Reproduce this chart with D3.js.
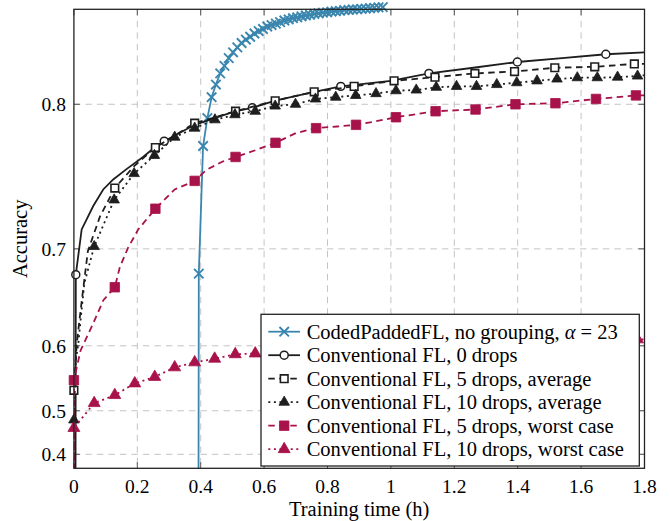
<!DOCTYPE html>
<html>
<head>
<meta charset="utf-8">
<script src="https://cdn.jsdelivr.net/npm/d3@7"></script>
<style>
  body { margin: 0; background: #fff; }
  text { font-family: "Liberation Serif", "Times New Roman", serif; fill: #000; }
</style>
</head>
<body>
<div id="chart"></div>
<script>
// tick labels
const xTicks = [0, 0.2, 0.4, 0.6, 0.8, 1, 1.2, 1.4, 1.6, 1.8];
const yTicks = [0.4, 0.5, 0.6, 0.7, 0.8];

// CodedPaddedFL, no grouping, alpha = 23
const codedTime = [0.393, 0.394, 0.4075, 0.421, 0.4345, 0.448, 0.4615, 0.475, 0.4885, 0.502, 0.5155, 0.529, 0.5425, 0.556, 0.5695, 0.583, 0.5965, 0.61, 0.6235, 0.637, 0.6505, 0.664, 0.6775, 0.691, 0.7045, 0.718, 0.7315, 0.745, 0.7585, 0.772, 0.7855, 0.799, 0.8125, 0.826, 0.8395, 0.853, 0.8665, 0.88, 0.8935, 0.907, 0.9205, 0.934, 0.9475, 0.961, 0.9745];
const codedAcc = [0.10, 0.678, 0.775, 0.792, 0.804, 0.811, 0.817, 0.821, 0.825, 0.828, 0.8305, 0.8327, 0.8344, 0.8358, 0.8374, 0.8386, 0.8396, 0.8408, 0.8415, 0.8422, 0.8429, 0.8437, 0.8442, 0.8448, 0.8452, 0.8457, 0.8461, 0.8464, 0.8468, 0.8471, 0.8474, 0.8476, 0.8479, 0.8481, 0.8483, 0.8486, 0.8487, 0.8489, 0.849, 0.8492, 0.8493, 0.8495, 0.8497, 0.8499, 0.85];

// Conventional FL, 0 drops
const fl0Time = [0.005, 0.006, 0.0245, 0.061, 0.0925, 0.124, 0.166, 0.218, 0.26, 0.285, 0.381, 0.51, 0.563, 0.635, 0.758, 0.842, 1.0, 1.12, 1.26, 1.399, 1.54, 1.678, 1.8];
const fl0Acc = [0.10, 0.677, 0.716, 0.734, 0.746, 0.753, 0.760, 0.768, 0.775, 0.778, 0.788, 0.796, 0.798, 0.802, 0.807, 0.810, 0.813, 0.817, 0.820, 0.823, 0.825, 0.827, 0.828];
const fl0Marks = [1, 9, 12, 15, 17, 19, 21];

// Conventional FL, 5 drops, average
const fl5Time = [0, 0, 0.009, 0.025, 0.044, 0.082, 0.129, 0.19, 0.257, 0.381, 0.51, 0.635, 0.758, 0.884, 1.01, 1.139, 1.265, 1.39, 1.517, 1.643, 1.768, 1.8];
const fl5Acc = [0.10, 0.536, 0.603, 0.652, 0.698, 0.726, 0.747, 0.762, 0.774, 0.789, 0.796, 0.802, 0.807, 0.810, 0.813, 0.815, 0.817, 0.818, 0.820, 0.8205, 0.822, 0.822];
const fl5Marks = [1, 6, 8, 9, 10, 11, 12, 13, 14, 15, 16, 17, 18, 19, 20];

// Conventional FL, 10 drops, average
const fl10Time = [0, 0, 0.006, 0.014, 0.022, 0.033, 0.064, 0.127, 0.19, 0.254, 0.318, 0.381, 0.445, 0.508, 0.572, 0.635, 0.699, 0.762, 0.826, 0.889, 0.953, 1.016, 1.08, 1.143, 1.207, 1.27, 1.334, 1.397, 1.461, 1.524, 1.588, 1.651, 1.715, 1.778, 1.8];
const fl10Acc = [0.10, 0.482, 0.581, 0.603, 0.634, 0.669, 0.702, 0.7385, 0.757, 0.769, 0.7805, 0.786, 0.791, 0.794, 0.796, 0.799, 0.800, 0.803, 0.804, 0.805, 0.806, 0.8076, 0.808, 0.8095, 0.810, 0.810, 0.811, 0.812, 0.813, 0.814, 0.8147, 0.8147, 0.815, 0.8156, 0.816];
const fl10Marks = d3.range(6, 34).concat([1]);

// Conventional FL, 5 drops, worst case
const fl5wTime = [0, 0, 0.021, 0.061, 0.093, 0.129, 0.145, 0.171, 0.203, 0.257, 0.318, 0.381, 0.418, 0.469, 0.51, 0.575, 0.636, 0.70, 0.764, 0.83, 0.89, 0.95, 1.016, 1.141, 1.267, 1.393, 1.519, 1.647, 1.773, 1.8];
const fl5wAcc = [0.10, 0.552, 0.594, 0.627, 0.652, 0.665, 0.684, 0.701, 0.716, 0.732, 0.746, 0.752, 0.7595, 0.765, 0.768, 0.7725, 0.777, 0.783, 0.786, 0.787, 0.788, 0.790, 0.7925, 0.796, 0.797, 0.800, 0.8006, 0.803, 0.805, 0.805];
const fl5wMarks = [1, 5, 9, 11, 14, 16, 18, 20, 22, 23, 24, 25, 26, 27, 28];

// Conventional FL, 10 drops, worst case
const fl10wTime = [0, 0, 0.064, 0.129, 0.192, 0.255, 0.318, 0.381, 0.444, 0.509, 0.572, 0.635, 0.699, 0.762, 0.826, 0.889, 0.953, 1.016, 1.08, 1.143, 1.207, 1.27, 1.334, 1.397, 1.461, 1.524, 1.588, 1.651, 1.715, 1.778, 1.8];
const fl10wAcc = [0.10, 0.465, 0.514, 0.528, 0.547, 0.557, 0.571, 0.578, 0.583, 0.589, 0.590, 0.591, 0.593, 0.592, 0.594, 0.596, 0.595, 0.597, 0.598, 0.598, 0.600, 0.601, 0.600, 0.602, 0.604, 0.603, 0.605, 0.606, 0.606, 0.608, 0.608];
const fl10wMarks = d3.range(1, 30);

const blue = "#3a86ae", red = "#a8124a", dark = "#1e1e1e";

const series = [
  { label: "CodedPaddedFL, no grouping, ", math: "α", tail: " = 23", time: codedTime, acc: codedAcc, marks: d3.range(1, codedTime.length),
    color: blue, dash: null, symbol: d3.symbolX, size: 60, fill: "none", mstroke: 1.9 },
  { label: "Conventional FL, 0 drops", time: fl0Time, acc: fl0Acc, marks: fl0Marks,
    color: dark, dash: null, symbol: d3.symbolCircle, size: 50, fill: "#fff", mstroke: 1.5 },
  { label: "Conventional FL, 5 drops, average", time: fl5Time, acc: fl5Acc, marks: fl5Marks,
    color: dark, dash: "6.5,4.5", symbol: d3.symbolSquare, size: 58, fill: "#fff", mstroke: 1.6 },
  { label: "Conventional FL, 10 drops, average", time: fl10Time, acc: fl10Acc, marks: fl10Marks,
    color: dark, dash: "2,3.6", symbol: d3.symbolTriangle, size: 48, fill: dark, mstroke: 0.8 },
  { label: "Conventional FL, 5 drops, worst case", time: fl5wTime, acc: fl5wAcc, marks: fl5wMarks,
    color: red, dash: "6.5,4.5", symbol: d3.symbolSquare, size: 90, fill: red, mstroke: 0.8 },
  { label: "Conventional FL, 10 drops, worst case", time: fl10wTime, acc: fl10wAcc, marks: fl10wMarks,
    color: red, dash: "2,3.6", symbol: d3.symbolTriangle, size: 62, fill: red, mstroke: 0.8 }
];

const W = 670, H = 521;
const margin = { left: 73.9, top: 9.3, right: 670 - 644.5, bottom: 521 - 468.3 };
const width = W - margin.left - margin.right, height = H - margin.top - margin.bottom;

// accuracy axis is drawn on an exponential scale
const k = 4;
const x = d3.scaleLinear().domain([0, 1.8]).range([0, width]);
const yExp = d3.scaleLinear().domain([Math.exp(k * 0.357), Math.exp(k * 0.849)]).range([height, 0]);
const y = a => yExp(Math.exp(k * a));

const svg = d3.select("#chart").append("svg")
    .attr("width", W).attr("height", H)
  .append("g")
    .attr("transform", "translate(" + margin.left + "," + margin.top + ")");

svg.append("clipPath").attr("id", "clip")
  .append("rect").attr("width", width).attr("height", height);

// grid
svg.append("g").selectAll("line")
  .data(xTicks.slice(1, -1))
  .enter().append("line")
    .attr("x1", d => x(d)).attr("x2", d => x(d))
    .attr("y1", 0).attr("y2", height)
    .attr("stroke", "#c4c4c4").attr("stroke-width", 1).attr("stroke-dasharray", "6.5,5");
svg.append("g").selectAll("line")
  .data(yTicks)
  .enter().append("line")
    .attr("x1", 0).attr("x2", width)
    .attr("y1", d => y(d)).attr("y2", d => y(d))
    .attr("stroke", "#c4c4c4").attr("stroke-width", 1).attr("stroke-dasharray", "6.5,5");

// ticks on all four sides, pointing inwards
const tk = 6;
const ticks = svg.append("g").attr("stroke", "#555").attr("stroke-width", 1);
xTicks.forEach(d => {
  ticks.append("line").attr("x1", x(d)).attr("x2", x(d)).attr("y1", height).attr("y2", height - tk);
  ticks.append("line").attr("x1", x(d)).attr("x2", x(d)).attr("y1", 0).attr("y2", tk);
});
yTicks.forEach(d => {
  ticks.append("line").attr("x1", 0).attr("x2", tk).attr("y1", y(d)).attr("y2", y(d));
  ticks.append("line").attr("x1", width).attr("x2", width - tk).attr("y1", y(d)).attr("y2", y(d));
});

// tick labels
svg.append("g").selectAll("text")
  .data(xTicks)
  .enter().append("text")
    .attr("x", d => x(d)).attr("y", height + 25)
    .attr("text-anchor", "middle").attr("font-size", 19.5)
    .text(d => d3.format("~g")(d));
svg.append("g").selectAll("text")
  .data(yTicks)
  .enter().append("text")
    .attr("x", -8).attr("y", d => y(d)).attr("dy", "0.35em")
    .attr("text-anchor", "end").attr("font-size", 19.5)
    .text(d => d3.format("~g")(d));

// axis labels
svg.append("text")
  .attr("x", width / 2).attr("y", height + 48)
  .attr("text-anchor", "middle").attr("font-size", 20.5)
  .text("Training time (h)");
svg.append("text")
  .attr("transform", "translate(" + (27 - margin.left) + "," + (height / 2) + ") rotate(-90)")
  .attr("text-anchor", "middle").attr("font-size", 20.5)
  .text("Accuracy");

// lines
const line = d3.line().x(d => x(d[0])).y(d => y(d[1]));
const plot = svg.append("g");
series.forEach(s => {
  const pts = s.time.map((t, i) => [t, s.acc[i]]);
  plot.append("path")
    .attr("clip-path", "url(#clip)")
    .attr("d", line(pts))
    .attr("fill", "none")
    .attr("stroke", s.color).attr("stroke-width", 1.8)
    .attr("stroke-dasharray", s.dash);
  plot.append("g").selectAll("path")
    .data(s.marks.map(i => pts[i]))
    .enter().append("path")
      .attr("transform", d => "translate(" + x(d[0]) + "," + y(d[1]) + ")")
      .attr("d", d3.symbol().type(s.symbol).size(s.size))
      .attr("fill", s.fill).attr("stroke", s.color).attr("stroke-width", s.mstroke);
});

// frame
svg.append("rect")
  .attr("width", width).attr("height", height)
  .attr("fill", "none").attr("stroke", "#222").attr("stroke-width", 1.3);

// legend
const lg = svg.append("g").attr("transform", "translate(" + (261 - margin.left) + "," + (314.3 - margin.top) + ")");
lg.append("rect").attr("width", 378.3).attr("height", 151.7)
  .attr("fill", "#fff").attr("stroke", "#222").attr("stroke-width", 1.3);
series.forEach((s, i) => {
  const row = lg.append("g").attr("transform", "translate(0," + (17.4 + i * 23.5) + ")");
  row.append("line").attr("x1", 7.3).attr("x2", 39)
    .attr("stroke", s.color).attr("stroke-width", 1.8).attr("stroke-dasharray", s.dash);
  row.append("path").attr("transform", "translate(23.2,0)")
    .attr("d", d3.symbol().type(s.symbol).size(s.size))
    .attr("fill", s.fill).attr("stroke", s.color).attr("stroke-width", s.mstroke);
  const t = row.append("text").attr("x", 45.7).attr("dy", "0.35em").attr("font-size", 20.5);
  t.append("tspan").text(s.label);
  if (s.math) {
    t.append("tspan").attr("font-style", "italic").text(s.math);
    t.append("tspan").text(s.tail);
  }
});
</script>
</body>
</html>
